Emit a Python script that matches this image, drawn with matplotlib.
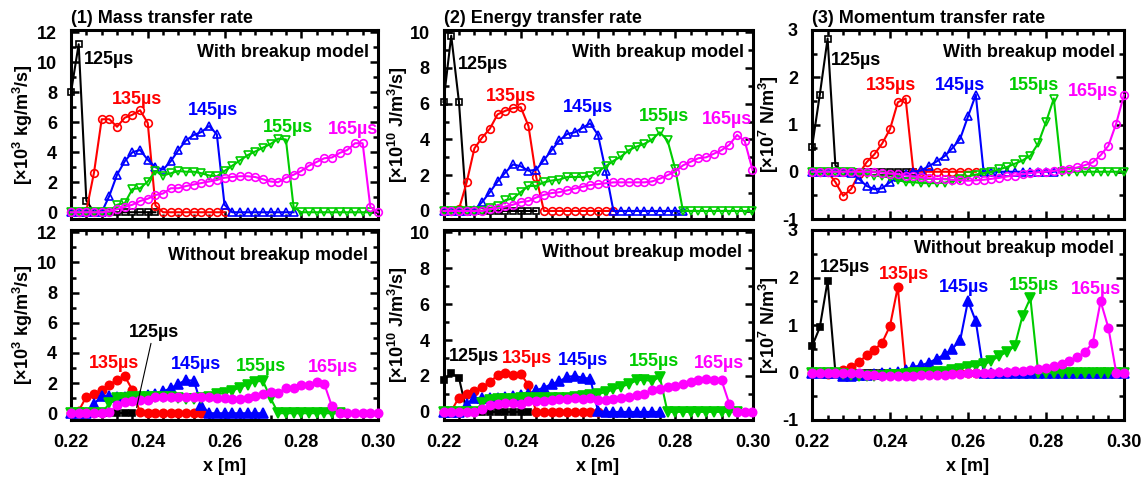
import matplotlib
matplotlib.use('Agg')
import matplotlib.pyplot as plt
from matplotlib.ticker import MultipleLocator, FormatStrFormatter

plt.rcParams['font.family'] = ['Liberation Sans', 'DejaVu Sans']
plt.rcParams['font.weight'] = 'bold'
plt.rcParams['mathtext.default'] = 'regular'

# grid positions [m]
x = [0.220, 0.222, 0.224, 0.226, 0.228, 0.230, 0.232, 0.234, 0.236, 0.238,
     0.240, 0.242, 0.244, 0.246, 0.248, 0.250, 0.252, 0.254, 0.256, 0.258,
     0.260, 0.262, 0.264, 0.266, 0.268, 0.270, 0.272, 0.274, 0.276, 0.278,
     0.280, 0.282, 0.284, 0.286, 0.288, 0.290, 0.292, 0.294, 0.296, 0.298,
     0.300]

times = ['125µs', '135µs', '145µs', '155µs', '165µs']

# (1) mass transfer rate, with breakup model
mass_with_125 = [8.0, 11.2, 0.78, 0, 0, 0, 0, 0, 0, 0, 0, 0]
mass_with_135 = [0, 0, 0.1, 2.65, 6.2, 6.2, 5.7, 6.3, 6.5, 6.8, 5.95, 0.45,
                 0, 0, 0, 0, 0, 0, 0, 0, 0]
mass_with_145 = [0, 0, 0, 0, 0, 1.1, 2.5, 3.4, 4.0, 4.15, 3.5, 3.0, 2.85, 3.4,
                 4.15, 4.8, 5.15, 5.35, 5.75, 5.2, 0.5,
                 0, 0, 0, 0, 0, 0, 0, 0, 0]
mass_with_155 = [0, 0, 0, 0, 0, 0.05, 0.5, 0.6, 1.55, 1.6, 2.05, 2.75, 2.45,
                 2.6, 2.75, 2.7, 2.7, 2.6, 2.45, 2.4, 2.75, 3.1, 3.45, 3.8,
                 4.05, 4.3, 4.55, 4.9, 4.85, 0.35,
                 0, 0, 0, 0, 0, 0, 0, 0, 0, 0]
mass_with_165 = [0, 0, 0, 0, 0, 0.05, 0.2, 0.35, 0.5, 0.75, 0.9, 1.15, 1.25,
                 1.6, 1.6, 1.75, 1.85, 1.95, 2.05, 2.15, 2.3, 2.35, 2.4, 2.4,
                 2.35, 2.2, 2.05, 2.0, 2.3, 2.5, 2.75, 3.1, 3.35, 3.6, 3.65,
                 3.95, 4.15, 4.6, 4.6, 0.35, 0]

# (1) mass transfer rate, without breakup model
mass_without_125 = [0, 0, 0, 0, 0, 0, 0, 0, 0]
mass_without_135 = [0, 0.15, 1.1, 1.3, 1.55, 1.9, 2.2, 2.45, 1.55, 0.05,
                    0, 0, 0, 0, 0, 0, 0, 0]
mass_without_145 = [0, 0, 0, 0.6, 1.15, 1.15, 1.1, 1.1, 1.1, 1.15, 1.2, 1.3,
                    1.45, 1.65, 1.95, 2.2, 2.15, 0.55,
                    0, 0, 0, 0, 0, 0, 0, 0]
mass_without_155 = [0, 0, 0, 0, 0, 0.65, 1.0, 1.0, 1.05, 1.05, 1.1, 1.1, 1.05,
                    1.05, 1.0, 0.95, 0.95, 1.0, 1.1, 1.25, 1.35, 1.5, 1.7, 1.9,
                    2.1, 2.15, 1.0, 0, 0, 0, 0, 0, 0, 0, 0, 0]
mass_without_165 = [0, 0, 0, 0, 0, 0.05, 0.55, 0.75, 0.8, 0.85, 0.85, 1.05,
                    1.05, 1.1, 1.1, 1.05, 1.05, 1.1, 1.05, 1.0, 1.0, 0.95, 0.95,
                    1.0, 1.15, 1.3, 1.4, 1.35, 1.65, 1.65, 1.85, 1.9, 2.1, 1.95,
                    0.45, 0, 0, 0, 0, 0, 0]

# (2) energy transfer rate, with breakup model
energy_with_125 = [6.1, 9.8, 6.1, 0, 0, 0, 0, 0, 0, 0, 0, 0, 0]
energy_with_135 = [0, 0, 0.1, 1.6, 3.5, 4.1, 4.6, 5.4, 5.6, 5.75, 5.8, 4.75,
                   1.9, 0, 0, 0, 0, 0, 0, 0, 0, 0, 0]
energy_with_145 = [0, 0, 0, 0, 0.05, 0.5, 1.05, 1.65, 2.15, 2.6, 2.5, 2.25,
                   2.3, 2.85, 3.4, 3.95, 4.3, 4.4, 4.65, 4.9, 4.25, 2.25, 0,
                   0, 0, 0, 0, 0, 0, 0, 0, 0]
energy_with_155 = [0, 0, 0, 0, 0, 0, 0.15, 0.25, 0.6, 0.7, 1.05, 1.4, 1.4,
                   1.6, 1.7, 1.75, 1.9, 1.9, 1.9, 1.95, 2.2, 2.5, 2.8, 3.05,
                   3.4, 3.6, 3.75, 4.0, 4.4, 3.95, 2.35,
                   0, 0, 0, 0, 0, 0, 0, 0, 0, 0]
energy_with_165 = [0, 0, 0, 0, 0, 0, 0.1, 0.15, 0.25, 0.35, 0.5, 0.55, 0.75,
                   0.9, 1.0, 1.05, 1.15, 1.25, 1.35, 1.45, 1.5, 1.55, 1.6, 1.6,
                   1.6, 1.6, 1.6, 1.65, 1.8, 2.0, 2.2, 2.55, 2.75, 2.95, 3.0,
                   3.2, 3.4, 3.7, 4.25, 3.9, 2.3]

# (2) energy transfer rate, without breakup model
energy_without_125 = [1.75, 2.15, 1.9, 0, 0, 0, 0, 0, 0, 0, 0, 0]
energy_without_135 = [0, 0.05, 0.8, 1.0, 1.15, 1.4, 1.65, 2.05, 2.15, 2.05,
                      2.1, 1.5, 0, 0, 0, 0, 0, 0, 0, 0, 0]
energy_without_145 = [0, 0, 0, 0.45, 0.75, 0.8, 0.8, 0.8, 0.85, 0.9, 0.95,
                      1.0, 1.2, 1.35, 1.55, 1.7, 1.95, 2.0, 1.9, 1.85, 0.05,
                      0, 0, 0, 0, 0, 0, 0, 0]
energy_without_155 = [0, 0, 0, 0, 0, 0.5, 0.65, 0.7, 0.7, 0.7, 0.75, 0.75,
                      0.75, 0.75, 0.75, 0.75, 0.75, 0.85, 0.9, 0.95, 1.0, 1.1,
                      1.25, 1.4, 1.55, 1.75, 1.8, 1.7, 1.95, 0,
                      0, 0, 0, 0, 0, 0, 0, 0, 0]
energy_without_165 = [0, 0, 0, 0, 0, 0.15, 0.4, 0.45, 0.5, 0.5, 0.45, 0.6,
                      0.6, 0.6, 0.65, 0.7, 0.7, 0.75, 0.7, 0.75, 0.65, 0.65,
                      0.7, 0.8, 0.85, 0.95, 1.0, 1.2, 1.25, 1.4, 1.45, 1.55,
                      1.65, 1.8, 1.85, 1.8, 1.75, 0.45, 0, 0, 0]

# (3) momentum transfer rate, with breakup model
momentum_with_125 = [0.52, 1.63, 2.82, 0.13, 0, 0, 0, 0, 0, 0, 0, 0, 0, 0]
momentum_with_135 = [0, 0, 0, -0.22, -0.51, -0.37, -0.05, 0.2, 0.37, 0.6, 0.9,
                     1.47, 1.55, 0, 0, 0, 0, 0, 0, 0, 0, 0]
momentum_with_145 = [0, 0, 0, 0, 0, -0.02, -0.15, -0.3, -0.37, -0.35, -0.22,
                     -0.12, -0.05, 0.0, 0.03, 0.12, 0.22, 0.33, 0.5, 0.7, 1.17,
                     1.63, 0, 0, 0, 0, 0, 0, 0, 0, 0, 0]
momentum_with_155 = [0, 0, 0, 0, 0, 0, -0.02, -0.05, -0.08, -0.1, -0.12,
                     -0.17, -0.22, -0.22, -0.24, -0.24, -0.24, -0.23, -0.2,
                     -0.15, -0.1, -0.06, -0.03, 0.0, 0.05, 0.1, 0.17, 0.24,
                     0.34, 0.6, 1.05, 1.55, 0, 0, 0, 0, 0, 0, 0, 0, 0]
momentum_with_165 = [0, 0, 0, 0, 0, 0, 0, 0, -0.01, -0.02, -0.04, -0.05,
                     -0.08, -0.1, -0.12, -0.14, -0.15, -0.16, -0.17, -0.18,
                     -0.19, -0.18, -0.17, -0.15, -0.13, -0.1, -0.08, -0.05,
                     -0.03, -0.01, 0.0, 0.02, 0.04, 0.06, 0.09, 0.14, 0.2,
                     0.35, 0.55, 1.02, 1.63]

# (3) momentum transfer rate, without breakup model
momentum_without_125 = [0.55, 0.95, 1.93, 0, 0, 0, 0, 0, 0, 0, 0, 0, 0, 0]
momentum_without_135 = [0, 0, -0.03, 0.02, 0.05, 0.12, 0.22, 0.36, 0.48, 0.63,
                        0.98, 1.8, 0, 0, 0, 0, 0, 0, 0, 0, 0, 0]
momentum_without_145 = [0, 0, 0, 0, -0.08, -0.08, -0.06, -0.05, -0.03, -0.02,
                        -0.01, 0.02, 0.05, 0.12, 0.15, 0.21, 0.29, 0.38, 0.5,
                        0.68, 1.51, 1.08, 0, 0, 0, 0, 0, 0, 0, 0, 0, 0, 0, 0,
                        0, 0, 0, 0, 0, 0, 0]
momentum_without_155 = [0, 0, 0, 0, -0.03, -0.06, -0.08, -0.08, -0.08, -0.07,
                        -0.06, -0.05, -0.04, -0.02, -0.01, 0.0, 0.01, 0.02,
                        0.05, 0.08, 0.12, 0.14, 0.17, 0.24, 0.35, 0.43, 0.56,
                        1.2, 1.57, 0, 0, 0, 0, 0, 0, 0, 0, 0, 0, 0, 0]
momentum_without_165 = [0, 0, 0, 0, 0, 0, -0.02, -0.05, -0.06, -0.07, -0.07,
                        -0.07, -0.07, -0.07, -0.06, -0.06, -0.05, -0.05, -0.04,
                        -0.03, -0.02, -0.01, 0.0, 0.0, 0.01, 0.02, 0.03, 0.04,
                        0.05, 0.07, 0.09, 0.13, 0.17, 0.24, 0.32, 0.43, 0.63,
                        1.5, 0.94, 0, 0]

colors = ['black', 'red', 'blue', '#00cc00', 'magenta']
markers = ['s', 'o', '^', 'v', 'o']
msize = [3.8, 5.5, 6.0, 6.0, 5.5]

# label positions (data coords) for the 5 times in each panel
lab_mass_with = [(0.2298, 10.15), (0.2371, 7.55), (0.2569, 6.8), (0.2766, 5.65), (0.2935, 5.55)]
lab_mass_without = [(0.2415, 5.38), (0.2313, 3.27), (0.2526, 3.2), (0.2696, 3.1), (0.2882, 3.05)]
lab_energy_with = [(0.2302, 8.2), (0.2375, 6.4), (0.2575, 5.8), (0.2771, 5.3), (0.2935, 5.1)]
lab_energy_without = [(0.2280, 3.1), (0.2415, 2.96), (0.2562, 2.87), (0.2745, 2.78), (0.2912, 2.68)]
lab_momentum_with = [(0.2314, 2.35), (0.2402, 1.82), (0.2580, 1.83), (0.2770, 1.83), (0.2920, 1.70)]
lab_momentum_without = [(0.2285, 2.22), (0.2435, 2.06), (0.2589, 1.78), (0.2770, 1.83), (0.2927, 1.75)]

W, H = 1146, 484
fig = plt.figure(figsize=(W / 100, H / 100), dpi=100)


def make_axes(l, r, t, b):
    return fig.add_axes([l / W, 1 - b / H, (r - l) / W, (b - t) / H])


def style_axes(ax, ylim, ymajor, yminor, xlabels):
    ax.set_xlim(0.22, 0.30)
    ax.set_ylim(*ylim)
    ax.xaxis.set_major_locator(MultipleLocator(0.02))
    ax.xaxis.set_minor_locator(MultipleLocator(0.004))
    ax.yaxis.set_major_locator(MultipleLocator(ymajor))
    ax.yaxis.set_minor_locator(MultipleLocator(yminor))
    ax.xaxis.set_major_formatter(FormatStrFormatter('%.2f'))
    ax.yaxis.set_major_formatter(FormatStrFormatter('%d'))
    ax.tick_params(which='both', direction='in', top=True, right=True,
                   width=1.8, labelsize=13, pad=10)
    ax.tick_params(which='major', length=6)
    ax.tick_params(which='minor', length=3.5)
    for s in ax.spines.values():
        s.set_linewidth(2.2)
    if not xlabels:
        ax.tick_params(labelbottom=False)
    else:
        ax.set_xlabel('x [m]', fontsize=13, fontweight='bold')
        ax.xaxis.set_label_coords(0.5, -0.2)


def draw_series(ax, series, filled):
    for i, ys in enumerate(series):
        c = colors[i]
        ax.plot(x[:len(ys)], ys, color=c, lw=1.5, marker=markers[i],
                ms=msize[i] + (0.5 if filled else 0),
                mfc=c if filled else 'none', mec=c, mew=1.2, clip_on=False,
                zorder=3 + i)


def draw_labels(ax, labels, skip_first=False):
    for i, (lx, ly) in enumerate(labels):
        if skip_first and i == 0:
            continue
        ax.text(lx, ly, times[i], color=colors[i], fontsize=13,
                fontweight='bold', ha='center', va='center', zorder=10)


cols = [(71, 378), (443.5, 752.5), (812, 1124)]
top_row = (30, 219)
bot_row = (230, 420)

panels = [
    ('(1) Mass transfer rate', '[×10$^{3}$ kg/m$^{3}$/s]', (-0.45, 12.15), 2, 1, -0.155, 0.868,
     [mass_with_125, mass_with_135, mass_with_145, mass_with_155, mass_with_165],
     [mass_without_125, mass_without_135, mass_without_145, mass_without_155, mass_without_165],
     lab_mass_with, lab_mass_without),
    ('(2) Energy transfer rate', '[×10$^{10}$ J/m$^{3}$/s]', (-0.45, 10.12), 2, 1, -0.149, 0.884,
     [energy_with_125, energy_with_135, energy_with_145, energy_with_155, energy_with_165],
     [energy_without_125, energy_without_135, energy_without_145, energy_without_155, energy_without_165],
     lab_energy_with, lab_energy_without),
    ('(3) Momentum transfer rate', '[×10$^{7}$ N/m$^{3}$]', (-1, 3), 1, 0.5, -0.139, 0.905,
     [momentum_with_125, momentum_with_135, momentum_with_145, momentum_with_155, momentum_with_165],
     [momentum_without_125, momentum_without_135, momentum_without_145, momentum_without_155, momentum_without_165],
     lab_momentum_with, lab_momentum_without),
]

for k, (title, ylab, ylim, ymaj, ymin, ylx, wo_y, with_s, without_s, lab_w, lab_wo) in enumerate(panels):
    l, r = cols[k]
    ax1 = make_axes(l, r, *top_row)
    ax2 = make_axes(l, r, *bot_row)
    style_axes(ax1, ylim, ymaj, ymin, False)
    style_axes(ax2, ylim, ymaj, ymin, True)
    draw_series(ax1, with_s, False)
    draw_series(ax2, without_s, True)
    draw_labels(ax1, lab_w)
    draw_labels(ax2, lab_wo, skip_first=(k == 0))
    ax1.text(0.0, 1.035, title, transform=ax1.transAxes, ha='left',
             va='baseline', fontsize=13, fontweight='bold')
    ax1.text(0.972, 0.88, 'With breakup model', transform=ax1.transAxes,
             ha='right', va='center', fontsize=13, fontweight='bold', zorder=11)
    ax2.text(0.967, wo_y, 'Without breakup model', transform=ax2.transAxes,
             ha='right', va='center', fontsize=13, fontweight='bold', zorder=11)
    for ax in (ax1, ax2):
        ax.text(ylx, 0.5, ylab, transform=ax.transAxes, rotation=90,
                ha='center', va='center', fontsize=13, fontweight='bold')
    if k == 0:
        # 125us label with a leader line in the lower mass panel
        lx, ly = lab_wo[0]
        ax2.annotate(times[0], xy=(0.2371, 0.38), xytext=(lx, ly),
                     color='black', fontsize=13, fontweight='bold',
                     ha='center', va='center', zorder=10,
                     arrowprops=dict(arrowstyle='-', color='black',
                                     lw=0.8, shrinkA=0, shrinkB=0))

fig.savefig('out.png', dpi=100)
